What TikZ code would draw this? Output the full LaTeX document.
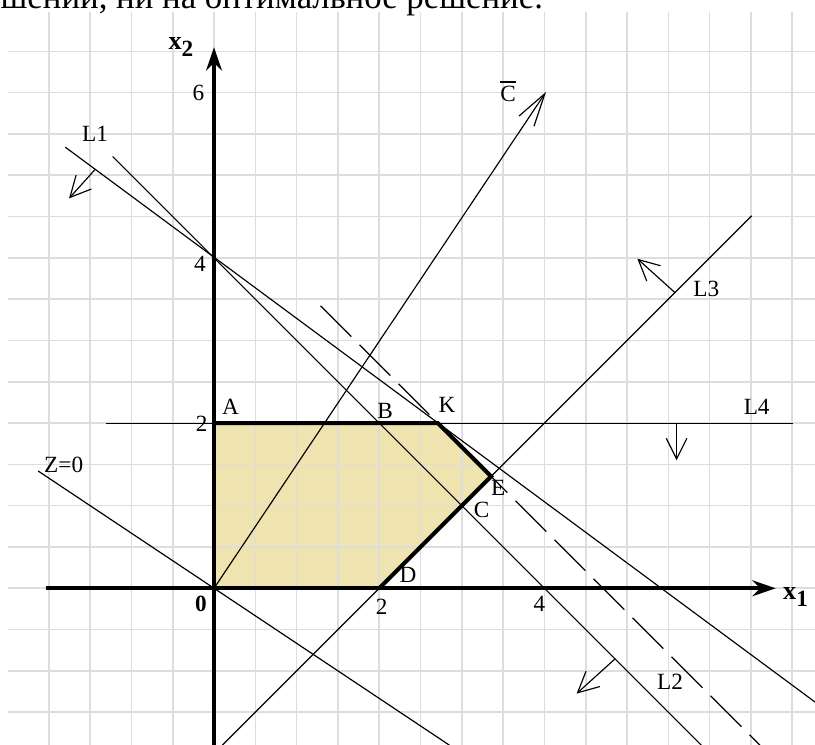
\documentclass[tikz,border=0pt]{standalone}
\usepackage{fontspec}
\setmainfont{Liberation Serif}
\usetikzlibrary{arrows.meta}

\definecolor{regionfill}{RGB}{239,227,176}
\definecolor{gridgray}{RGB}{221,221,221}

\newcommand{\axlab}[2]{\textbf{#1}\raisebox{-2.4pt}{\fontsize{8}{9}\selectfont\textbf{#2}}}

\begin{document}
\begin{tikzpicture}[
  every node/.style={font=\fontsize{8}{9.5}\selectfont, inner sep=0pt},
  gridline/.style={draw=gridgray, line width=0.55pt},
  thinline/.style={line width=0.4pt},
  boldline/.style={line width=1.4pt, line join=miter},
  axis/.style={line width=1.4pt, -{Stealth[length=2.8mm, width=1.9mm, inset=0.9mm]}},
  norm/.style={line width=0.4pt, -{Straight Barb[length=2.5mm, width=2.5mm]}},
  cvec/.style={line width=0.4pt, -{Straight Barb[length=4mm, width=2.2mm]}},
  dashline/.style={line width=0.4pt, dash pattern=on 15pt off 4pt}
]
  \useasboundingbox (-2.591,-1.897) rectangle (7.276,7.122);

  % points of the region
  \coordinate (O) at (0,0);
  \coordinate (A) at (0,2);
  \coordinate (K) at (2.71,2);
  \coordinate (E) at (3.355,1.355);
  \coordinate (D) at (2,0);

  % feasible region
  \fill[regionfill] (O) -- (A) -- (K) -- (E) -- (D) -- cycle;

  % grid
  \foreach \gx in {-2,-1.5,...,7}
    \draw[gridline] (\gx,-1.897) -- (\gx,6.98);
  \foreach \gy in {-1.5,-1,...,6.5}
    \draw[gridline] (-2.5,\gy) -- (7.276,\gy);

  % end points of the lines
  \coordinate (l1a) at (-1.80,5.34);
  \coordinate (l1b) at (7.28,-1.38);
  \coordinate (l2a) at (-1.227,5.227);
  \coordinate (l2b) at (5.90,-1.90);
  \coordinate (l3a) at (0.10,-1.90);
  \coordinate (l3b) at (6.51,4.51);
  \coordinate (l4a) at (-1.31,2);
  \coordinate (l4b) at (7.01,2);
  \coordinate (dsa) at (1.29,3.42);
  \coordinate (dsb) at (6.61,-1.90);
  \coordinate (za) at (-2.13,1.42);
  \coordinate (zb) at (2.85,-1.90);
  \coordinate (ctip) at (4.02,6.01);

  \draw[thinline] (l1a) -- (l1b);
  \draw[thinline] (l2a) -- (l2b);
  \draw[thinline] (l3a) -- (l3b);
  \draw[thinline] (l4a) -- (l4b);
  \draw[dashline] (dsa) -- (dsb);
  \draw[thinline] (za) -- (zb);
  \draw[cvec] (O) -- (ctip);

  % normals
  \coordinate (n1s) at (-1.44,5.07);
  \coordinate (n1e) at (-1.755,4.72);
  \coordinate (n2s) at (4.855,-0.855);
  \coordinate (n2e) at (4.39,-1.275);
  \coordinate (n3s) at (5.58,3.58);
  \coordinate (n3e) at (5.125,3.99);
  \coordinate (n4s) at (5.6,2);
  \coordinate (n4e) at (5.6,1.55);
  \draw[norm] (n1s) -- (n1e);
  \draw[norm] (n2s) -- (n2e);
  \draw[norm] (n3s) -- (n3e);
  \draw[norm] (n4s) -- (n4e);

  % boundary and axes
  \draw[boldline] (A) -- (K) -- (E) -- (D);
  \coordinate (xa) at (-2.03,0);
  \coordinate (xb) at (6.80,0);
  \coordinate (ya) at (0,-1.897);
  \coordinate (yb) at (0,6.55);
  \draw[axis] (xa) -- (xb);
  \draw[axis] (ya) -- (yb);

  % labels
  \node[anchor=base west, font=\fontsize{12}{14}\selectfont] (top) at (-2.591,7.02) {шений, ни на оптимальное решение.};
  \node[font=\fontsize{9}{10}\selectfont] (x1) at (7.04,-0.10) {\axlab{x}{1}};
  \node[font=\fontsize{9}{10}\selectfont] (x2) at (-0.40,6.55) {\axlab{x}{2}};
  \node (n0) at (-0.157,-0.185) {\textbf{0}};
  \node (nx2) at (2.03,-0.22) {2};
  \node (nx4) at (3.94,-0.19) {4};
  \node (ny2) at (-0.15,1.99) {2};
  \node (ny4) at (-0.17,3.93) {4};
  \node (ny6) at (-0.19,6.0) {6};
  \node (lA) at (0.20,2.20) {A};
  \node (lB) at (2.07,2.15) {B};
  \node (lK) at (2.82,2.22) {K};
  \node (lE) at (3.44,1.21) {E};
  \node (lC) at (3.24,0.95) {C};
  \node (lD) at (2.35,0.16) {D};
  \node (L1) at (-1.44,5.50) {L1};
  \node (L2) at (5.52,-1.13) {L2};
  \node (L3) at (5.96,3.63) {L3};
  \node (L4) at (6.57,2.20) {L4};
  \node (Z0) at (-1.82,1.49) {Z=0};
  \node (lCv) at (3.56,6.02) {$\overline{\mbox{C}}$};
\end{tikzpicture}
\end{document}
